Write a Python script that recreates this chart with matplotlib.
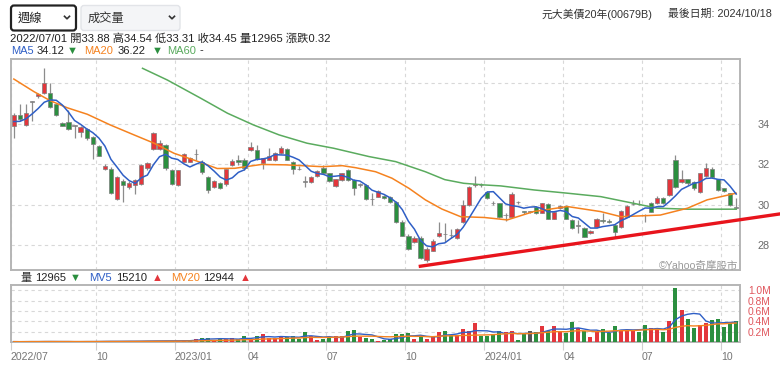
import numpy as np
import pandas as pd
import matplotlib
matplotlib.use("Agg")
import matplotlib.pyplot as plt
from matplotlib.patches import FancyBboxPatch

plt.rcParams['font.family'] = ['Liberation Sans', 'Noto Sans CJK TC']

# weekly bars 2022/07/01 .. 2024/10/18 (market closed the week of 2023/01/27)
dates = pd.date_range("2022-07-01", "2024-10-18", freq="W-FRI")
dates = dates[dates != pd.Timestamp("2023-01-27")]

# last 4 weekly closes before the first bar (for MA5 and the first change)
pre_close = [34.20, 33.90, 33.92, 34.13]

open_px = [33.88, 34.45, 33.95, 35.10, 35.40, 35.55, 35.55, 34.97, 34.06, 34.11,
           33.92, 33.59, 33.75, 33.36, 32.93, 31.80, 31.80, 30.28, 31.20, 30.87,
           30.99, 31.04, 31.81, 32.77, 32.77, 32.96, 31.73, 30.99, 32.14, 32.14,
           32.50, 32.14, 31.40, 30.90, 31.10, 31.05, 31.98, 32.20, 32.22, 32.72,
           32.72, 32.05, 32.22, 32.22, 32.55, 32.77, 32.14, 31.78, 31.15, 31.15,
           31.45, 31.81, 31.57, 30.95, 31.23, 31.73, 31.23, 30.99, 30.99, 30.30,
           30.41, 30.46, 30.41, 30.16, 29.18, 28.48, 28.19, 28.39, 27.28, 27.74,
           28.47, 28.57, 28.52, 28.35, 29.18, 30.00, 30.98, 31.00, 30.66, 30.10,
           30.08, 29.48, 29.42, 30.15, 29.66, 29.65, 29.92, 29.62, 30.05, 29.32,
           29.84, 29.95, 29.26, 28.96, 28.85, 28.60, 28.90, 29.25, 29.20, 29.01,
           28.90, 29.42, 30.03, 30.07, 29.52, 30.11, 30.08, 30.33, 30.49, 32.22,
           31.15, 31.27, 31.15, 30.66, 31.43, 31.76, 31.27, 30.82, 30.58, 29.87]
high_px = [34.54, 35.00, 35.00, 35.15, 35.55, 36.75, 36.00, 35.00, 34.10, 34.70,
           33.95, 33.90, 33.80, 33.40, 32.95, 32.00, 31.85, 31.45, 31.30, 31.20,
           31.30, 32.00, 32.10, 33.60, 33.20, 33.00, 31.80, 31.75, 32.55, 32.35,
           32.75, 32.20, 31.45, 31.25, 31.15, 31.80, 32.25, 32.45, 32.30, 33.10,
           32.95, 32.30, 32.80, 32.60, 32.90, 32.80, 32.18, 31.90, 31.45, 31.45,
           31.72, 31.95, 31.60, 31.30, 31.60, 31.76, 31.28, 31.10, 31.02, 30.60,
           30.72, 30.50, 30.45, 30.20, 29.25, 28.55, 28.45, 28.45, 27.90, 28.30,
           29.18, 29.13, 28.80, 28.85, 30.25, 30.95, 31.43, 31.10, 30.70, 30.20,
           30.12, 29.60, 30.66, 30.20, 29.70, 29.70, 29.95, 30.10, 30.10, 29.70,
           30.00, 30.00, 29.30, 29.26, 28.90, 28.75, 29.35, 29.62, 29.30, 29.05,
           29.75, 29.98, 30.25, 30.25, 29.55, 30.15, 30.45, 30.38, 31.30, 32.47,
           31.72, 31.30, 31.20, 31.60, 32.05, 31.85, 31.30, 30.85, 30.60, 30.33]
low_px = [33.31, 34.15, 33.90, 34.15, 35.30, 35.50, 34.80, 34.40, 33.90, 33.70,
          33.30, 33.37, 33.20, 32.26, 32.40, 31.75, 30.55, 30.25, 30.16, 30.80,
          30.54, 31.00, 31.75, 32.70, 32.70, 31.75, 31.00, 30.95, 32.10, 32.10,
          32.20, 31.55, 30.60, 30.85, 30.80, 30.95, 31.90, 31.95, 31.75, 32.65,
          32.20, 31.80, 32.20, 32.15, 32.50, 32.20, 31.55, 31.75, 30.90, 31.10,
          31.40, 31.55, 31.15, 30.90, 31.20, 31.20, 30.49, 30.90, 30.25, 29.98,
          30.38, 30.30, 30.10, 29.10, 28.45, 27.75, 28.10, 27.35, 27.20, 27.70,
          28.40, 28.19, 28.35, 28.30, 29.10, 29.95, 30.90, 30.90, 30.30, 30.00,
          29.35, 29.20, 29.35, 30.05, 29.55, 29.60, 29.55, 29.60, 29.30, 29.30,
          29.80, 29.30, 28.80, 28.60, 28.40, 28.55, 28.85, 29.10, 29.10, 28.43,
          28.85, 29.40, 30.00, 30.00, 29.15, 29.65, 30.05, 30.05, 30.45, 30.85,
          31.10, 31.00, 30.75, 30.60, 31.40, 31.35, 30.70, 30.65, 29.95, 29.79]
close_px = [34.45, 34.25, 34.53, 35.10, 35.48, 36.00, 34.83, 34.44, 33.92, 33.75,
            33.92, 33.87, 33.32, 33.00, 32.43, 31.93, 30.58, 31.40, 31.00, 31.10,
            31.23, 31.98, 32.06, 33.57, 33.08, 31.81, 31.04, 31.73, 32.50, 32.30,
            32.50, 31.61, 30.75, 31.19, 30.82, 31.78, 32.17, 32.10, 31.81, 32.88,
            32.27, 32.30, 32.43, 32.55, 32.80, 32.22, 31.78, 31.76, 31.15, 31.40,
            31.68, 31.57, 31.19, 31.27, 31.57, 31.23, 30.85, 30.99, 30.30, 30.28,
            30.69, 30.33, 30.16, 29.18, 28.48, 27.83, 28.35, 27.40, 27.83, 28.24,
            28.60, 28.55, 28.50, 28.80, 30.00, 30.90, 31.00, 30.97, 30.33, 30.08,
            29.39, 29.50, 30.53, 30.13, 29.65, 29.65, 29.59, 30.08, 29.32, 29.67,
            29.97, 29.32, 28.85, 28.96, 28.43, 28.73, 29.31, 29.22, 29.18, 28.68,
            29.72, 29.95, 30.07, 30.03, 29.48, 29.67, 30.33, 30.08, 31.27, 30.90,
            31.27, 31.07, 30.82, 31.57, 31.81, 31.37, 30.74, 30.70, 30.00, 29.87]
# weekly volume, lots
volume = [12965, 11000, 14000, 16000, 13000, 19000, 15000, 12000, 14000, 13000,
          11000, 15000, 17000, 16000, 18000, 20000, 22000, 18000, 19000, 24000,
          22000, 26000, 28000, 25000, 30000, 27000, 29000, 32000, 30000, 34000,
          72000, 85000, 88000, 45000, 58000, 60000, 75000, 64000, 118000, 55000,
          128000, 155000, 90000, 80000, 100000, 105000, 130000, 72000, 195000, 120000,
          45000, 72000, 110000, 125000, 115000, 210000, 245000, 105000, 75000, 72000,
          30000, 52000, 55000, 165000, 160000, 180000, 64000, 110000, 64000, 110000,
          190000, 220000, 140000, 140000, 260000, 210000, 370000, 130000, 130000, 150000,
          220000, 190000, 220000, 50000, 170000, 220000, 200000, 310000, 220000, 320000,
          220000, 180000, 390000, 270000, 210000, 110000, 190000, 260000, 180000, 310000,
          240000, 220000, 240000, 200000, 340000, 270000, 270000, 190000, 400000, 1040000,
          620000, 440000, 270000, 340000, 380000, 420000, 450000, 290000, 370000, 400000]

# MA20 / MA60 (bar position, value)
ma20_at = [0, 3.3, 6, 8.8, 12.1, 15.9, 19.8, 23.1, 26.4, 30.8, 33.5, 36.4, 40.8, 44.8,
           47.5, 50.8, 54.1, 56.3, 59.6, 62.3, 65.1, 67.8, 70.5, 73.6, 77.5, 81.3,
           85.6, 91.2, 96.7, 100, 106.5, 111, 114.2, 119]
ma20_val = [36.22, 35.60, 35.15, 34.80, 34.48, 33.95, 33.46, 33.05, 32.55, 32.10, 31.80,
            31.81, 32.00, 31.98, 31.94, 31.89, 31.94, 31.84, 31.64, 31.32, 30.82, 30.25,
            29.80, 29.42, 29.38, 29.26, 29.67, 29.92, 29.67, 29.42, 29.50, 29.84, 30.25,
            30.58]
ma60_at = [21.2, 25.3, 30.8, 35.2, 39.5, 43.7, 48.3, 52.7, 58.5, 62.9, 67.8, 71.0,
           74.1, 77.4, 80.2, 85.7, 91.2, 96.7, 102.1, 106, 111, 119]
ma60_val = [36.75, 36.17, 35.27, 34.53, 33.95, 33.46, 33.05, 32.80, 32.39, 32.14, 31.64,
            31.25, 31.07, 30.99, 30.94, 30.74, 30.58, 30.41, 30.08, 29.84, 29.79, 29.79]

# hand-drawn support line (bar position, price)
trend_at = [66.7, 126.3]
trend_val = [26.96, 29.56]

RED, GREEN, GRAY = '#e3363c', '#2b8f3f', '#9a9a9a'
BLUE, ORANGE, LGREEN = '#2f5fc6', '#f5821f', '#5aab5e'
GRID = '#d8d8d8'
BORDER = '#b5b5b5'

o = np.array(open_px)
h = np.array(high_px)
l = np.array(low_px)
c = np.array(close_px)
v = np.array(volume)
x = np.arange(len(c))

ma5 = pd.Series(pre_close + close_px).rolling(5).mean().to_numpy()[len(pre_close):]
mv5 = pd.Series(volume).rolling(5, min_periods=1).mean()
mv20 = pd.Series(volume).rolling(20, min_periods=1).mean()

body_col = np.where(np.isclose(c, o), GRAY, np.where(c > o, RED, GREEN))
prev = np.r_[pre_close[-1], c[:-1]]
vol_col = np.where(np.isclose(c, prev), '#555555', np.where(c > prev, RED, GREEN))

# ticks at the first bar of each quarter month
months = dates.month.to_numpy()
first = [i for i in range(len(dates)) if i == 0 or months[i] != months[i - 1]]
first = [i for i in first if months[i] in (1, 4, 7, 10)]
tick_pos = [i - 0.5 for i in first]
tick_lab = [dates[i].strftime('%Y/%m') if (i == 0 or months[i] == 1) else dates[i].strftime('%m')
            for i in first]

W, H = 780, 376
fig = plt.figure(figsize=(W / 100, H / 100), dpi=100)


def box(left, top, right, bottom):
    return [left / W, 1 - bottom / H, (right - left) / W, (bottom - top) / H]


ax = fig.add_axes(box(10.5, 59, 739.5, 269.5))
axv = fig.add_axes(box(10.5, 285, 739.5, 342.3))

# ---- price panel
ax.vlines(x, l, h, color='#8c8c8c', lw=0.9, zorder=2)
ax.bar(x, np.maximum(np.abs(c - o), 0.03), bottom=np.minimum(o, c), width=0.7,
       color=body_col, edgecolor='#7d7d7d', linewidth=0.5, zorder=3)
ax.plot(ma60_at, ma60_val, color=LGREEN, lw=1.1, zorder=4)
ax.plot(ma20_at, ma20_val, color=ORANGE, lw=1.1, zorder=4)
ax.plot(x, ma5, color=BLUE, lw=1.1, zorder=4)
ax.plot(trend_at, trend_val, color='#e8141c', lw=2.4, zorder=6, clip_on=False,
        solid_capstyle='butt')

ax.set_xlim(-0.55, 119.55)
ax.set_ylim(26.81, 37.21)
ax.set_xticks(tick_pos)
ax.set_xticklabels([])
ax.set_yticks([28, 30, 32, 34, 36])
ax.set_yticklabels(['28', '30', '32', '34', ''])
ax.yaxis.tick_right()
ax.tick_params(axis='y', length=0, pad=13, labelsize=7.8, labelcolor='#6b6b6b')
ax.tick_params(axis='x', length=0)
ax.grid(True, color=GRID, lw=0.8, ls=(0, (3, 3)))
for s in ax.spines.values():
    s.set_color(BORDER)
    s.set_linewidth(1.4)

# ---- volume panel
axv.bar(x, v, width=0.66, color=vol_col, zorder=3)
axv.plot(x, mv5, color=BLUE, lw=1.0, zorder=4)
axv.plot(x, mv20, color=ORANGE, lw=1.0, zorder=4)
axv.set_xlim(-0.55, 119.55)
axv.set_ylim(0, 1.1e6)
axv.set_yticks([0.2e6, 0.4e6, 0.6e6, 0.8e6, 1.0e6])
axv.set_yticklabels(['0.2M', '0.4M', '0.6M', '0.8M', '1.0M'])
axv.yaxis.tick_right()
axv.tick_params(axis='y', length=0, pad=6, labelsize=7.4, labelcolor='#e0555c')
axv.set_xticks(tick_pos)
axv.set_xticklabels(tick_lab, ha='left')
axv.tick_params(axis='x', length=6, width=0.8, color='#cfcfcf', pad=1,
                labelsize=7.6, labelcolor='#757575')
axv.grid(True, color=GRID, lw=0.8, ls=(0, (3, 3)))
for s in axv.spines.values():
    s.set_color(BORDER)
    s.set_linewidth(1.4)

# ---- header drawn in pixel coordinates
ov = fig.add_axes([0, 0, 1, 1], zorder=10)
ov.set_xlim(0, W)
ov.set_ylim(H, 0)
ov.axis('off')

ov.add_patch(FancyBboxPatch((11, 5.5), 65, 25, boxstyle='round,pad=0,rounding_size=3',
                            fc='white', ec='#222222', lw=1.6))
ov.add_patch(FancyBboxPatch((81, 5.5), 99, 25, boxstyle='round,pad=0,rounding_size=3',
                            fc='#f4f5f7', ec='#e2e4e8', lw=1.0))
ov.text(18, 18.5, '週線', fontsize=8.8, color='#222222', va='center')
ov.text(88, 18.5, '成交量', fontsize=8.8, color='#333333', va='center')
for cx in (67, 172):
    ov.plot([cx - 2.5, cx, cx + 2.5], [16.3, 18.8, 16.3], color='#333333', lw=1.2)

ov.text(542, 14, '元大美債20年(00679B)', fontsize=7.8, color='#333333',
        ha='left', va='center')
ov.text(771.5, 14, '最後日期: 2024/10/18', fontsize=7.8, color='#333333',
        ha='right', va='center')

ov.text(10, 39, '2022/07/01 開33.88 高34.54 低33.31 收34.45 量12965 漲跌0.32',
        fontsize=8.1, color='#222222', va='center')

legend_ma = [(11, 'MA5', BLUE), (37, '34.12', '#222222'), (67, '▼', GREEN),
             (84, 'MA20', ORANGE), (118, '36.22', '#222222'), (152, '▼', GREEN),
             (167, 'MA60', LGREEN), (200, '-', '#222222')]
for px, txt, col in legend_ma:
    ov.text(px, 50.5, txt, fontsize=8.0, color=col, va='center')

legend_vol = [(20, '量', '#333333'), (35, '12965', '#222222'), (70, '▼', GREEN),
              (89, 'MV5', BLUE), (116, '15210', '#222222'), (152, '▲', RED),
              (171, 'MV20', ORANGE), (203, '12944', '#222222'), (240, '▲', RED)]
for px, txt, col in legend_vol:
    ov.text(px, 278, txt, fontsize=8.0, color=col, va='center')

ov.text(738, 265.5, '©Yahoo奇摩股市', fontsize=7.6, color='#9a9a9a', ha='right', va='center')

fig.savefig('out.png', dpi=100)
